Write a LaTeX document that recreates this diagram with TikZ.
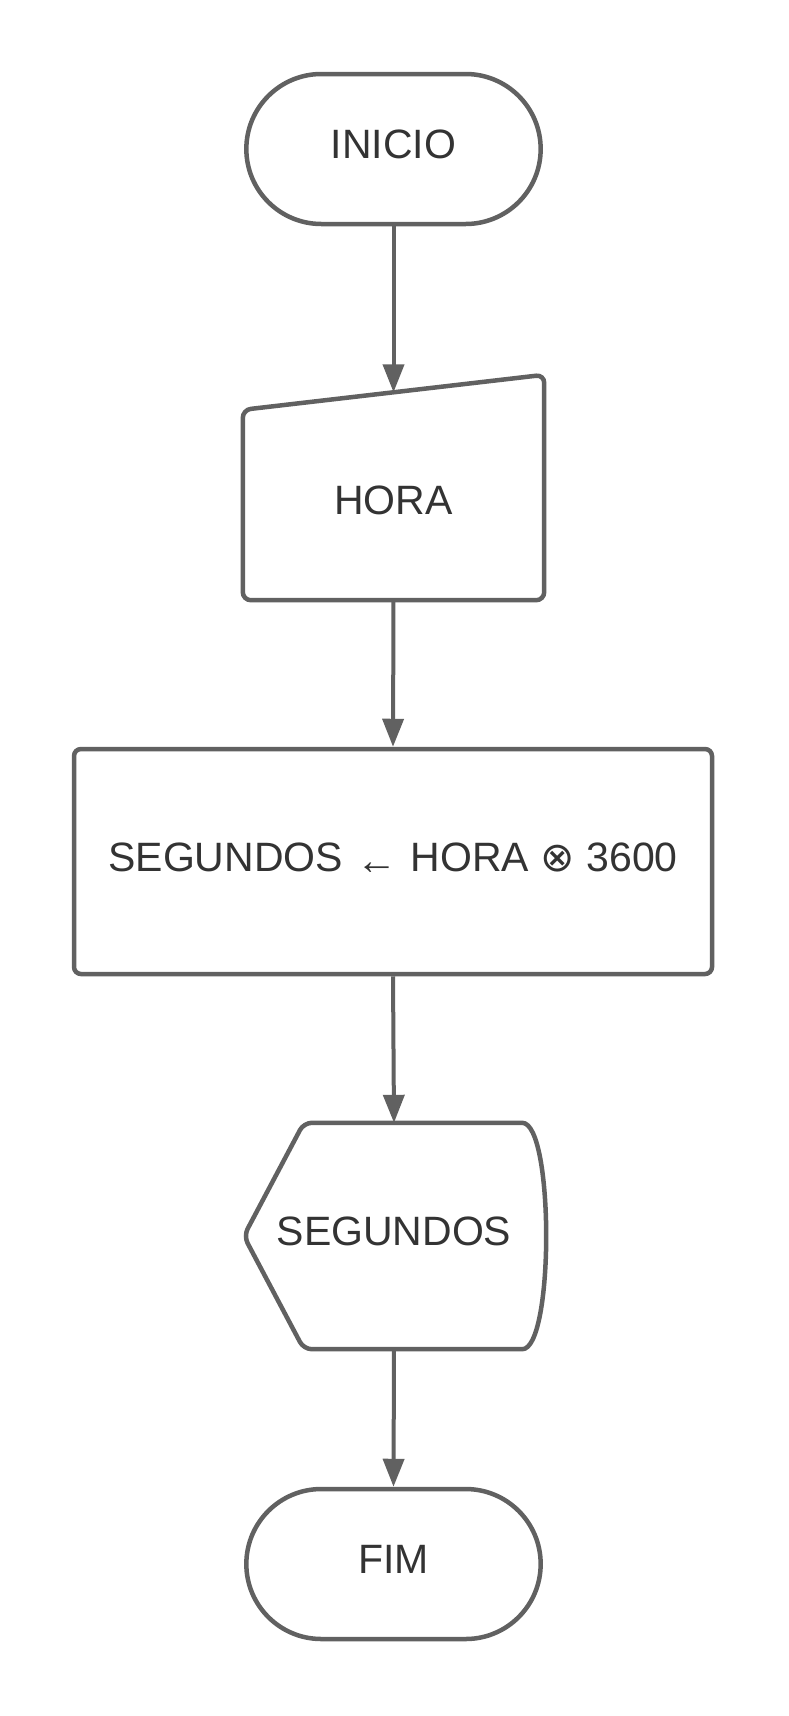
\documentclass[tikz,border=0pt]{standalone}
\usepackage{fontspec}
\setmainfont{Liberation Sans}
\newfontfamily\symbfont{DejaVu Sans}
\usetikzlibrary{arrows.meta,shapes.misc,positioning,calc}

\definecolor{linegray}{RGB}{97,97,97}
\definecolor{textgray}{RGB}{51,51,51}

\tikzset{
	labeltext/.style={text=textgray, font=\fontsize{41}{49}\selectfont, text height=34pt, text depth=15pt},
	terminal/.style={labeltext, rounded rectangle, draw=linegray, line width=4.5pt, minimum width=301pt, minimum height=150pt},
	procbox/.style={labeltext, rectangle, rounded corners=7pt, draw=linegray, line width=4.5pt, minimum width=638pt, minimum height=225pt},
	ghost/.style={labeltext, rectangle, draw=none, inner sep=0pt},
	outline/.style={draw=linegray, line width=4.5pt, rounded corners=8pt},
	flow/.style={draw=linegray, line width=4pt, ->},
}

\begin{document}
\begin{tikzpicture}[x=1pt,y=-1pt,>={Triangle[length=28pt,width=21pt]}]
			\useasboundingbox (0,0) rectangle (788,1716);
			%\draw[help lines,step=50] (0,0) grid (788,1716);

			\node[terminal] (inicio) at (393.5,149) {INICIO};

			% entrada manual
			\node[ghost, minimum width=301pt, minimum height=190pt] (hora) at (393.5,505) {HORA};
			\draw[outline] (hora.south) -- (hora.south west) -- (hora.north west)
				-- ($(hora.north east)+(0,-35)$) -- (hora.south east) -- cycle;
			\coordinate (hora in) at ($(hora.north)+(0,-17.5)$);

			\node[procbox] (calc) at (393,861.5) {SEGUNDOS\hspace{2pt} \raisebox{-3pt}{←}\hspace{2pt} HORA {\symbfont ⊗} 3600};

			% exibir
			\node[ghost, minimum width=300pt, minimum height=226pt] (segout) at (394,1236) {SEGUNDOS};
			\draw[outline] (segout.south) -- ($(segout.south west)+(60,0)$) -- (segout.west)
				-- ($(segout.north west)+(60,0)$) -- ($(segout.north east)+(-30,0)$)
				.. controls +(40,0) and +(40,0) .. ($(segout.south east)+(-30,0)$) -- cycle;

			\node[terminal] (fim) at (393.5,1564) {FIM};

			\draw[flow] (inicio.south) -- (hora in);
			\draw[flow] (hora.south) -- (calc.north);
			\draw[flow] (calc.south) -- (segout.north);
			\draw[flow] (segout.south) -- (fim.north);
		\end{tikzpicture}
\end{document}
